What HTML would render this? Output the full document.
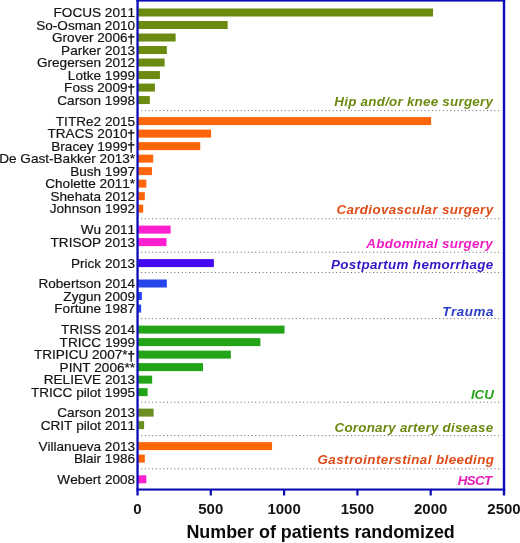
<!DOCTYPE html>
<html><head><meta charset="utf-8"><title>Number of patients randomized</title>
<style>
html,body{margin:0;padding:0;background:#fff;}
body{width:520px;height:543px;overflow:hidden;}
svg{display:block;}
text{font-family:"Liberation Sans",Arial,Helvetica,sans-serif;font-kerning:none;}
.lab{font-size:13.6px;fill:#141414;text-anchor:end;stroke:#141414;stroke-width:0.2px;}
.dg{stroke-width:0.45px;}
.grp{font-size:13.4px;font-weight:bold;font-style:italic;}
.tick{font-size:15px;font-weight:bold;fill:#141414;text-anchor:middle;}
.title{font-size:17.9px;font-weight:bold;fill:#0a0a0a;text-anchor:middle;}
</style></head><body>
<svg width="520" height="543" viewBox="0 0 520 543">
<rect x="0" y="0" width="520" height="543" fill="#fff"/>

<line x1="141.2" x2="502" y1="110.60" y2="110.60" stroke="#666" stroke-width="1" stroke-dasharray="1 2.68"/>
<line x1="141.2" x2="502" y1="218.70" y2="218.70" stroke="#666" stroke-width="1" stroke-dasharray="1 2.68"/>
<line x1="141.2" x2="502" y1="252.30" y2="252.30" stroke="#666" stroke-width="1" stroke-dasharray="1 2.68"/>
<line x1="141.2" x2="502" y1="272.50" y2="272.50" stroke="#666" stroke-width="1" stroke-dasharray="1 2.68"/>
<line x1="141.2" x2="502" y1="318.60" y2="318.60" stroke="#666" stroke-width="1" stroke-dasharray="1 2.68"/>
<line x1="141.2" x2="502" y1="402.20" y2="402.20" stroke="#666" stroke-width="1" stroke-dasharray="1 2.68"/>
<line x1="141.2" x2="502" y1="435.60" y2="435.60" stroke="#666" stroke-width="1" stroke-dasharray="1 2.68"/>
<line x1="141.2" x2="502" y1="468.80" y2="468.80" stroke="#666" stroke-width="1" stroke-dasharray="1 2.68"/>
<rect x="138.2" y="8.50" width="294.85" height="8.0" fill="#6b8a10"/>
<rect x="138.2" y="21.01" width="89.46" height="8.0" fill="#6b8a10"/>
<rect x="138.2" y="33.52" width="37.42" height="8.0" fill="#6b8a10"/>
<rect x="138.2" y="46.03" width="28.62" height="8.0" fill="#6b8a10"/>
<rect x="138.2" y="58.54" width="26.42" height="8.0" fill="#6b8a10"/>
<rect x="138.2" y="71.05" width="21.73" height="8.0" fill="#6b8a10"/>
<rect x="138.2" y="83.56" width="16.75" height="8.0" fill="#6b8a10"/>
<rect x="138.2" y="96.07" width="11.61" height="8.0" fill="#6b8a10"/>
<rect x="138.2" y="117.10" width="292.94" height="8.0" fill="#ff660a"/>
<rect x="138.2" y="129.61" width="72.89" height="8.0" fill="#ff660a"/>
<rect x="138.2" y="142.12" width="62.04" height="8.0" fill="#ff660a"/>
<rect x="138.2" y="154.63" width="14.99" height="8.0" fill="#ff660a"/>
<rect x="138.2" y="167.14" width="13.81" height="8.0" fill="#ff660a"/>
<rect x="138.2" y="179.65" width="8.10" height="8.0" fill="#ff660a"/>
<rect x="138.2" y="192.16" width="6.63" height="8.0" fill="#ff660a"/>
<rect x="138.2" y="204.67" width="5.02" height="8.0" fill="#ff660a"/>
<rect x="138.2" y="225.60" width="32.43" height="8.0" fill="#ff1fd0"/>
<rect x="138.2" y="238.11" width="28.33" height="8.0" fill="#ff1fd0"/>
<rect x="138.2" y="259.10" width="75.68" height="8.0" fill="#4408f0"/>
<rect x="138.2" y="279.50" width="28.62" height="8.0" fill="#2846ee"/>
<rect x="138.2" y="292.01" width="3.70" height="8.0" fill="#2846ee"/>
<rect x="138.2" y="304.52" width="2.97" height="8.0" fill="#2846ee"/>
<rect x="138.2" y="325.60" width="146.34" height="8.0" fill="#22a416"/>
<rect x="138.2" y="338.11" width="122.15" height="8.0" fill="#22a416"/>
<rect x="138.2" y="350.62" width="92.68" height="8.0" fill="#22a416"/>
<rect x="138.2" y="363.13" width="64.83" height="8.0" fill="#22a416"/>
<rect x="138.2" y="375.64" width="13.96" height="8.0" fill="#22a416"/>
<rect x="138.2" y="388.15" width="9.42" height="8.0" fill="#22a416"/>
<rect x="138.2" y="408.60" width="15.43" height="8.0" fill="#6b8e23"/>
<rect x="138.2" y="421.11" width="5.90" height="8.0" fill="#6b8e23"/>
<rect x="138.2" y="442.10" width="133.88" height="8.0" fill="#ff660a"/>
<rect x="138.2" y="454.61" width="6.63" height="8.0" fill="#ff660a"/>
<rect x="138.2" y="475.30" width="8.10" height="8.0" fill="#ff1fd0"/>
<text class="grp" x="334.36" y="105.7" fill="#6b8a10" style="letter-spacing:0.24px">Hip and/or knee surgery</text>
<text class="grp" x="336.56" y="214.2" fill="#e04c18" style="letter-spacing:0.33px">Cardiovascular surgery</text>
<text class="grp" x="366.36" y="248" fill="#f01cc4" style="letter-spacing:0.27px">Abdominal surgery</text>
<text class="grp" x="331.00" y="268.6" fill="#3414c8" style="letter-spacing:0.34px">Postpartum hemorrhage</text>
<text class="grp" x="442.20" y="316" fill="#2a3cc8" style="letter-spacing:0.58px">Trauma</text>
<text class="grp" x="471.00" y="398.9" fill="#26a51a" style="letter-spacing:-0.12px">ICU</text>
<text class="grp" x="334.50" y="431.5" fill="#6b8a10" style="letter-spacing:0.24px">Coronary artery disease</text>
<text class="grp" x="317.50" y="463.9" fill="#e04c18" style="letter-spacing:0.42px">Gastrointerstinal bleeding</text>
<text class="grp" x="457.64" y="485" fill="#e61cb8" style="letter-spacing:-0.60px">HSCT</text>
<text class="lab" transform="translate(135.1,17.00) scale(1,0.955)">FOCUS 2011</text>
<text class="lab" transform="translate(135.1,29.51) scale(1,0.955)">So-Osman 2010</text>
<text class="lab" transform="translate(135.1,42.02) scale(1,0.955)">Grover 2006<tspan class="dg" dy="0.5">†</tspan></text>
<text class="lab" transform="translate(135.1,54.53) scale(1,0.955)">Parker 2013</text>
<text class="lab" transform="translate(135.1,67.04) scale(1,0.955)">Gregersen 2012</text>
<text class="lab" transform="translate(135.1,79.55) scale(1,0.955)">Lotke 1999</text>
<text class="lab" transform="translate(135.1,92.06) scale(1,0.955)">Foss 2009<tspan class="dg" dy="0.5">†</tspan></text>
<text class="lab" transform="translate(135.1,104.57) scale(1,0.955)">Carson 1998</text>
<text class="lab" transform="translate(135.1,125.60) scale(1,0.955)">TITRe2 2015</text>
<text class="lab" transform="translate(135.1,138.11) scale(1,0.955)">TRACS 2010<tspan class="dg" dy="0.5">†</tspan></text>
<text class="lab" transform="translate(135.1,150.62) scale(1,0.955)">Bracey 1999<tspan class="dg" dy="0.5">†</tspan></text>
<text class="lab" transform="translate(135.1,163.13) scale(1,0.955)">De Gast-Bakker 2013*</text>
<text class="lab" transform="translate(135.1,175.64) scale(1,0.955)">Bush 1997</text>
<text class="lab" transform="translate(135.1,188.15) scale(1,0.955)">Cholette 2011*</text>
<text class="lab" transform="translate(135.1,200.66) scale(1,0.955)">Shehata 2012</text>
<text class="lab" transform="translate(135.1,213.17) scale(1,0.955)">Johnson 1992</text>
<text class="lab" transform="translate(135.1,234.10) scale(1,0.955)">Wu 2011</text>
<text class="lab" transform="translate(135.1,246.61) scale(1,0.955)">TRISOP 2013</text>
<text class="lab" transform="translate(135.1,267.60) scale(1,0.955)">Prick 2013</text>
<text class="lab" transform="translate(135.1,288.00) scale(1,0.955)">Robertson 2014</text>
<text class="lab" transform="translate(135.1,300.51) scale(1,0.955)">Zygun 2009</text>
<text class="lab" transform="translate(135.1,313.02) scale(1,0.955)">Fortune 1987</text>
<text class="lab" transform="translate(135.1,334.10) scale(1,0.955)">TRISS 2014</text>
<text class="lab" transform="translate(135.1,346.61) scale(1,0.955)">TRICC 1999</text>
<text class="lab" transform="translate(135.1,359.12) scale(1,0.955)">TRIPICU 2007*<tspan class="dg" dy="0.5">†</tspan></text>
<text class="lab" transform="translate(135.1,371.63) scale(1,0.955)">PINT 2006**</text>
<text class="lab" transform="translate(135.1,384.14) scale(1,0.955)">RELIEVE 2013</text>
<text class="lab" transform="translate(135.1,396.65) scale(1,0.955)">TRICC pilot 1995</text>
<text class="lab" transform="translate(135.1,417.10) scale(1,0.955)">Carson 2013</text>
<text class="lab" transform="translate(135.1,429.61) scale(1,0.955)">CRIT pilot 2011</text>
<text class="lab" transform="translate(135.1,450.60) scale(1,0.955)">Villanueva 2013</text>
<text class="lab" transform="translate(135.1,463.11) scale(1,0.955)">Blair 1986</text>
<text class="lab" transform="translate(135.1,483.80) scale(1,0.955)">Webert 2008</text>
<rect x="136.4" y="0" width="2.3" height="495.5" fill="#0c0cb6"/>
<rect x="502.8" y="0" width="2.4" height="495.5" fill="#0c0cb6"/>
<rect x="136.4" y="0" width="368.8" height="1.6" fill="#0c0cb6"/>
<rect x="136.4" y="488.5" width="368.8" height="2.1" fill="#0c0cb6"/>
<rect x="209.70" y="489" width="2.2" height="6.5" fill="#0c0cb6"/>
<rect x="283.00" y="489" width="2.2" height="6.5" fill="#0c0cb6"/>
<rect x="356.30" y="489" width="2.2" height="6.5" fill="#0c0cb6"/>
<rect x="429.60" y="489" width="2.2" height="6.5" fill="#0c0cb6"/>
<text class="tick" x="137.50" y="514.3">0</text>
<text class="tick" x="210.80" y="514.3">500</text>
<text class="tick" x="284.10" y="514.3">1000</text>
<text class="tick" x="357.40" y="514.3">1500</text>
<text class="tick" x="430.70" y="514.3">2000</text>
<text class="tick" x="504.00" y="514.3">2500</text>
<text class="title" x="320.6" y="538.4">Number of patients randomized</text>
</svg></body></html>
